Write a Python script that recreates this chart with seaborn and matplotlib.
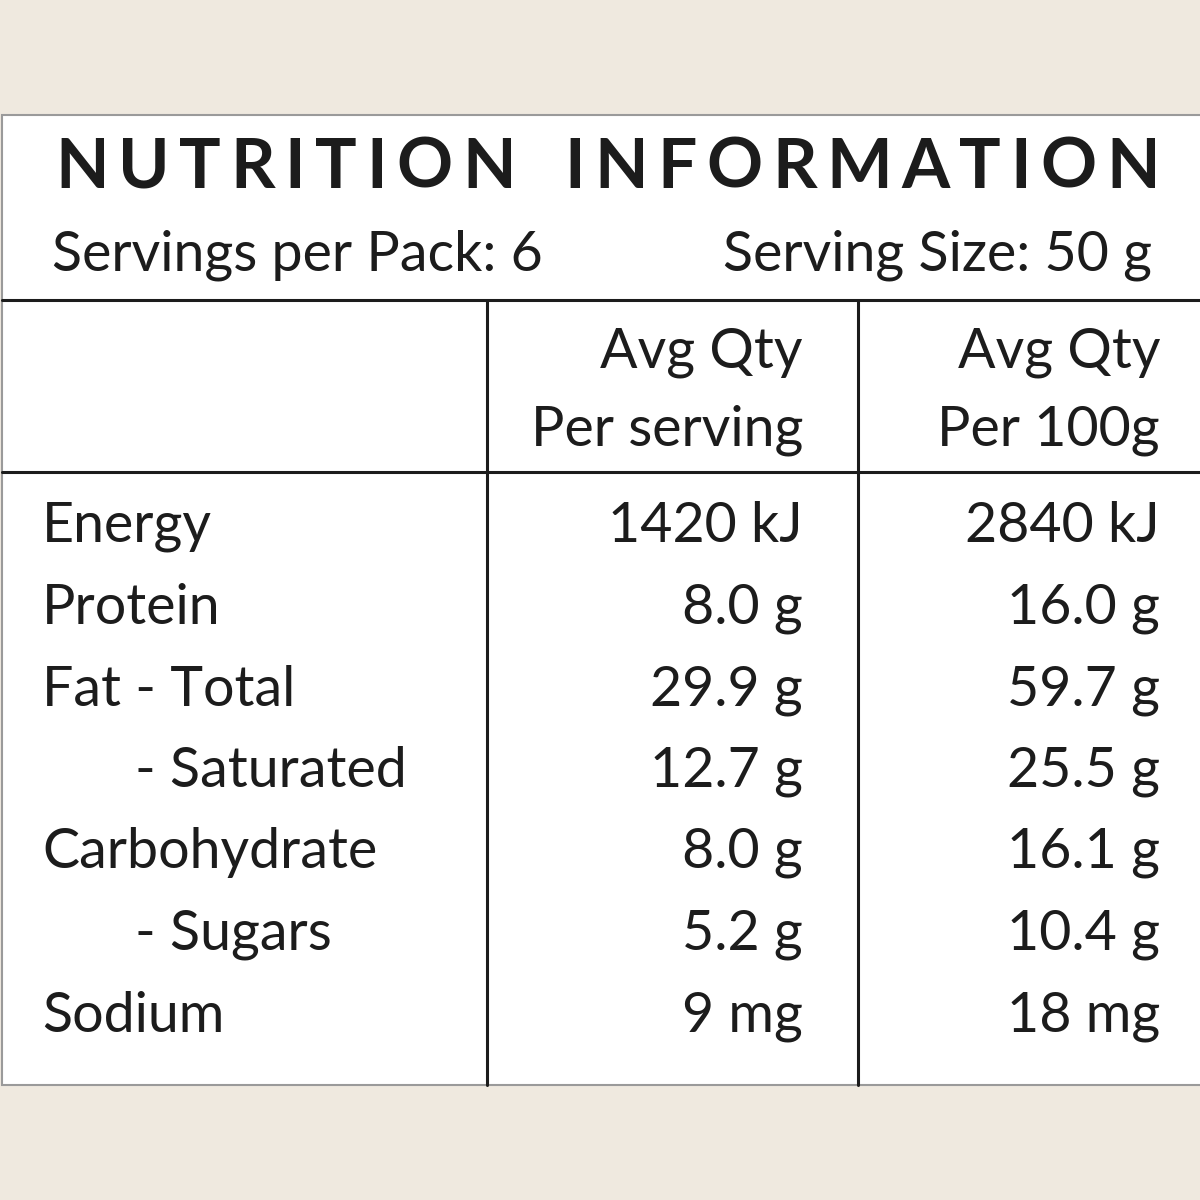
import matplotlib
matplotlib.use("Agg")
import matplotlib.pyplot as plt
import seaborn as sns

# Table contents
nutrients = ["Energy", "Protein", "Fat - Total", "- Saturated", "Carbohydrate", "- Sugars", "Sodium"]
indented = [False, False, False, True, False, True, False]
per_serving = ["1420 kJ", "8.0 g", "29.9 g", "12.7 g", "8.0 g", "5.2 g", "9 mg"]
per_100g = ["2840 kJ", "16.0 g", "59.7 g", "25.5 g", "16.1 g", "10.4 g", "18 mg"]
col_heads = [("Avg Qty", "Per serving"), ("Avg Qty", "Per 100g")]
title = "NUTRITION INFORMATION"
servings_txt = "Servings per Pack: 6"
size_txt = "Serving Size: 50 g"

sns.set_theme(style="white")
plt.rcParams["font.family"] = ["Lato", "DejaVu Sans"]
ink = "#1c1c1c"
fs = 40

fig = plt.figure(figsize=(12, 12), dpi=100, facecolor="#efe9df")
ax = fig.add_axes([0, 0, 1, 1])
ax.set_xlim(0, 1200)
ax.set_ylim(1200, 0)
ax.axis("off")

# white panel
ax.add_patch(plt.Rectangle((2, 115), 1200, 970, facecolor="white", edgecolor="#9a9a9a", lw=1.5))

# rules
ax.plot([2, 1200], [300, 300], color=ink, lw=2.2)
ax.plot([2, 1200], [472, 472], color=ink, lw=2.2)
for x in (487, 858):
    ax.plot([x, x], [300, 1085], color=ink, lw=2.2)

# letter-spaced title spanning 55..1160
renderer = fig.canvas.get_renderer()
letters = []
widths = []
for ch in title:
    t = ax.text(0, 168, ch if ch != " " else "N", ha="left", va="center", fontsize=50,
                color=ink, fontweight="bold")
    w = t.get_window_extent(renderer).width
    if ch == " ":
        t.remove()
        t = None
        w *= 0.55
    letters.append(t)
    widths.append(w)
x0, x1 = 55, 1160
gap = (x1 - x0 - sum(widths)) / (len(title) - 1)
x = x0
for t, w in zip(letters, widths):
    if t is not None:
        t.set_x(x)
    x += w + gap

ax.text(52, 255, servings_txt, ha="left", va="center", fontsize=fs, color=ink)
ax.text(1152, 255, size_txt, ha="right", va="center", fontsize=fs, color=ink)

col_right = [803, 1160]
for (h1, h2), xr in zip(col_heads, col_right):
    ax.text(xr, 352, h1, ha="right", va="center", fontsize=fs, color=ink)
    ax.text(xr, 430, h2, ha="right", va="center", fontsize=fs, color=ink)

y0, dy = 527, 81.5
for i, (name, ind, a, b) in enumerate(zip(nutrients, indented, per_serving, per_100g)):
    y = y0 + i * dy
    ax.text(135 if ind else 42, y, name, ha="left", va="center", fontsize=fs, color=ink)
    ax.text(col_right[0], y, a, ha="right", va="center", fontsize=fs, color=ink)
    ax.text(col_right[1], y, b, ha="right", va="center", fontsize=fs, color=ink)

fig.savefig("out.png", dpi=100, facecolor=fig.get_facecolor())
